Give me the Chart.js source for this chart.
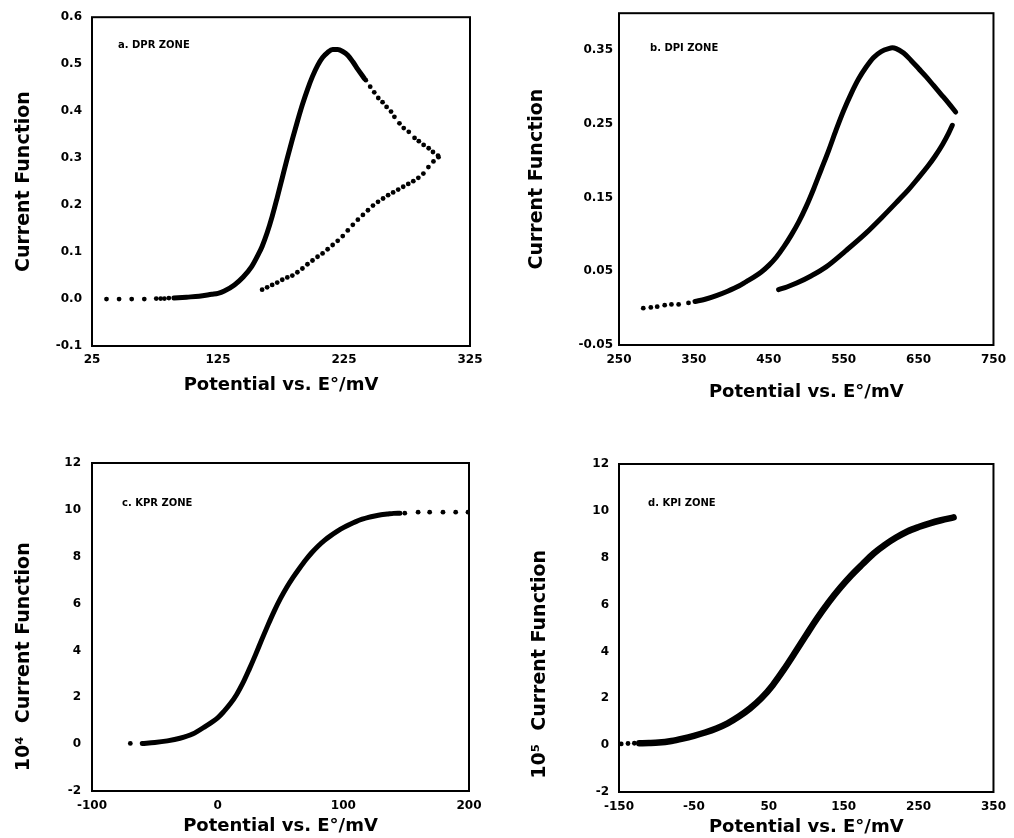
<!DOCTYPE html>
<html>
<head>
<meta charset="utf-8">
<script src="https://cdn.jsdelivr.net/npm/chart.js@4"></script>
<style>
  html, body { margin: 0; padding: 0; background: #fff; }
  body { width: 1014px; height: 838px; position: relative; overflow: hidden; }
  canvas { position: absolute; }
</style>
</head>
<body>
<canvas id="chartA" width="500" height="420" style="left:0;top:0;width:500px;height:420px"></canvas>
<canvas id="chartB" width="514" height="420" style="left:500px;top:0;width:514px;height:420px"></canvas>
<canvas id="chartC" width="500" height="418" style="left:0;top:420px;width:500px;height:418px"></canvas>
<canvas id="chartD" width="514" height="418" style="left:500px;top:420px;width:514px;height:418px"></canvas>
<script>
// ---------- Panel a: DPR zone ----------
const aXTicks = [25, 125, 225, 325];
const aYTicks = [-0.1, 0, 0.1, 0.2, 0.3, 0.4, 0.5, 0.6];
const aYTickLabels = ['-0.1', '0.0', '0.1', '0.2', '0.3', '0.4', '0.5', '0.6'];
const aFwdDotsX = [36.5, 46.5, 56.5, 66.5, 76, 79.5, 82.5, 86];
const aFwdDotsY = [0, 0, 0, 0, 0.001, 0.001, 0.001, 0.002];
const aFwdLineX = [90, 100, 110, 120, 125, 130, 138, 145, 151.7, 157, 160, 164, 168, 172, 176, 180, 184, 188, 192, 196, 200, 204, 208, 212, 216, 220, 224, 228, 232, 236, 241];
const aFwdLineY = [0.002, 0.004, 0.006, 0.010, 0.012, 0.017, 0.030, 0.047, 0.069, 0.095, 0.112, 0.141, 0.176, 0.216, 0.258, 0.300, 0.340, 0.378, 0.414, 0.446, 0.474, 0.497, 0.514, 0.525, 0.531, 0.531, 0.527, 0.519, 0.505, 0.489, 0.470];
const aFwdTailX = [242.3, 245.8, 249, 252.2, 255.6, 258.8, 262.3, 265, 269, 272.4, 276.4, 281, 284.4, 288.2, 292.2, 295.6, 299.6];
const aFwdTailY = [0.466, 0.452, 0.440, 0.428, 0.419, 0.409, 0.399, 0.388, 0.374, 0.364, 0.356, 0.343, 0.336, 0.328, 0.321, 0.313, 0.305];
const aRevDotsX = [160, 164, 168, 172, 176, 180, 184, 188, 192, 196, 200, 204, 208, 212, 216, 220, 224, 228, 232, 236, 240, 244, 248, 252, 256, 260, 264, 268, 272, 276, 280, 284, 288, 292, 296, 300];
const aRevDotsY = [0.020, 0.025, 0.030, 0.035, 0.041, 0.046, 0.050, 0.057, 0.065, 0.074, 0.082, 0.090, 0.097, 0.106, 0.115, 0.124, 0.134, 0.146, 0.158, 0.169, 0.179, 0.189, 0.199, 0.207, 0.214, 0.221, 0.227, 0.233, 0.239, 0.245, 0.251, 0.258, 0.267, 0.281, 0.293, 0.302];

// ---------- Panel b: DPI zone ----------
const bXTicks = [250, 350, 450, 550, 650, 750];
const bYTicks = [-0.05, 0.05, 0.15, 0.25, 0.35];
const bYTickLabels = ['-0.05', '0.05', '0.15', '0.25', '0.35'];
const bFwdDotsX = [282.4, 292.5, 301, 311, 320, 329.6, 342.8];
const bFwdDotsY = [0.000, 0.001, 0.002, 0.004, 0.005, 0.005, 0.007];
const bFwdLineX = [351.5, 365, 380, 395, 410, 420, 430, 440, 450, 460, 470, 480, 490, 500, 510, 520, 530, 540, 550, 560, 570, 580, 590, 600, 610, 615, 620, 630, 640, 650, 660, 670, 680, 690, 699.5];
const bFwdLineY = [0.009, 0.012, 0.017, 0.023, 0.030, 0.036, 0.042, 0.049, 0.058, 0.069, 0.083, 0.099, 0.117, 0.138, 0.162, 0.188, 0.214, 0.242, 0.268, 0.291, 0.311, 0.327, 0.340, 0.348, 0.352, 0.353, 0.352, 0.346, 0.336, 0.325, 0.314, 0.302, 0.290, 0.278, 0.266];
const bRevLineX = [695, 690, 682, 672, 662, 650, 636, 622.9, 601, 579, 553, 526.6, 507, 487.2, 475, 463.1];
const bRevLineY = [0.248, 0.237, 0.222, 0.206, 0.192, 0.177, 0.160, 0.146, 0.123, 0.101, 0.078, 0.056, 0.044, 0.034, 0.029, 0.025];

// ---------- Panel c: KPR zone ----------
const cXTicks = [-100, 0, 100, 200];
const cYTicks = [-2, 0, 2, 4, 6, 8, 10, 12];
const cYTickLabels = ['-2', '0', '2', '4', '6', '8', '10', '12'];
const cDotsX = [-69.5, 148.9, 159.5, 168.7, 179.3, 189.4, 199.2];
const cDotsY = [0.03, 9.86, 9.9, 9.9, 9.9, 9.9, 9.9];
const cLineX = [-60, -50, -40, -30, -20, -10, 0, 5, 10, 15, 20, 25, 30, 35, 40, 45, 50, 55, 60, 65, 70, 75, 80, 85, 90, 95, 100, 105, 110, 115, 120, 125, 130, 135, 140, 145];
const cLineY = [0.03, 0.07, 0.14, 0.25, 0.43, 0.75, 1.12, 1.40, 1.72, 2.11, 2.60, 3.18, 3.80, 4.45, 5.08, 5.68, 6.22, 6.70, 7.12, 7.50, 7.86, 8.18, 8.46, 8.70, 8.90, 9.08, 9.24, 9.38, 9.50, 9.60, 9.68, 9.74, 9.79, 9.82, 9.85, 9.86];

// ---------- Panel d: KPI zone ----------
const dXTicks = [-150, -50, 50, 150, 250, 350];
const dYTicks = [-2, 0, 2, 4, 6, 8, 10, 12];
const dYTickLabels = ['-2', '0', '2', '4', '6', '8', '10', '12'];
const dDotsX = [-147, -138, -129.5];
const dDotsY = [0.05, 0.07, 0.08];
const dLineX = [-123, -110, -97, -80, -65, -50, -35, -20, -5, 10, 25, 40, 55, 70, 85, 100, 115, 130, 145, 160, 175, 190, 205, 220, 235, 250, 265, 280, 296.8];
const dLineY = [0.08, 0.09, 0.11, 0.18, 0.28, 0.40, 0.54, 0.71, 0.93, 1.22, 1.57, 2.00, 2.55, 3.22, 3.95, 4.70, 5.43, 6.10, 6.70, 7.24, 7.72, 8.18, 8.55, 8.86, 9.12, 9.31, 9.47, 9.60, 9.72];

// ---------- Texts ----------
const xTitle = 'Potential vs. E°/mV';
const yTitleAB = 'Current Function';
const yTitleC = '   10⁴  Current Function';
const yTitleD = '  10⁵  Current Function';
const zoneLabels = ['a. DPR ZONE', 'b. DPI ZONE', 'c. KPR ZONE', 'd. KPI ZONE'];

// ---------- helpers ----------
const FONT = '"DejaVu Sans", "Liberation Sans", sans-serif';
const pts = (xs, ys) => xs.map((x, i) => ({ x: x, y: ys[i] }));

const framePlugin = {
  id: 'frame',
  afterDraw(chart) {
    const { ctx, chartArea: a } = chart;
    ctx.save();
    ctx.strokeStyle = '#000';
    ctx.lineWidth = 2;
    ctx.strokeRect(a.left, a.top, a.right - a.left, a.bottom - a.top);
    ctx.restore();
  }
};
const zonePlugin = {
  id: 'zoneLabel',
  afterDatasetsDraw(chart, args, opts) {
    const { ctx, chartArea: a } = chart;
    ctx.save();
    ctx.font = 'bold 10px ' + FONT;
    ctx.fillStyle = '#000';
    ctx.textBaseline = 'middle';
    ctx.textAlign = 'left';
    ctx.fillText(opts.text, a.left + opts.dx, a.top + opts.dy);
    ctx.restore();
  }
};

function lineDs(data, width) {
  return { data: data, showLine: true, borderColor: '#000', borderWidth: width,
           pointRadius: 0, cubicInterpolationMode: 'monotone',
           borderCapStyle: 'round', borderJoinStyle: 'round' };
}
function dotDs(data) {
  return { data: data, showLine: false, pointRadius: 2.4, pointBorderWidth: 0,
           backgroundColor: '#000', borderColor: '#000' };
}

function makeChart(id, cfg) {
  const tickList = (vals) => (scale) => { scale.ticks = vals.map(v => ({ value: v })); };
  new Chart(document.getElementById(id), {
    type: 'scatter',
    data: { datasets: cfg.datasets },
    options: {
      responsive: false,
      animation: false,
      events: [],
      layout: { padding: cfg.padding },
      plugins: {
        legend: { display: false },
        tooltip: { enabled: false },
        zoneLabel: cfg.zone
      },
      scales: {
        x: {
          type: 'linear', position: 'bottom',
          min: cfg.xTicks[0], max: cfg.xTicks[cfg.xTicks.length - 1],
          afterBuildTicks: tickList(cfg.xTicks),
          afterFit: (s) => { s.height = cfg.xAxisHeight; },
          grid: { display: false, drawTicks: false },
          border: { display: false },
          ticks: { color: '#000', padding: cfg.xTickPad, maxRotation: 0, autoSkip: false,
                   font: { family: FONT, size: 12, weight: 'bold' },
                   callback: (v) => String(v) },
          title: { display: true, text: xTitle, color: '#000',
                   font: { family: FONT, size: 18, weight: 'bold' },
                   padding: { top: 0, bottom: cfg.xTitlePad } }
        },
        y: {
          type: 'linear', position: 'left',
          min: cfg.yMin, max: cfg.yMax,
          afterBuildTicks: tickList(cfg.yTicks),
          afterFit: (s) => { s.width = cfg.yAxisWidth; },
          grid: { display: false, drawTicks: false },
          border: { display: false },
          ticks: { color: '#000', padding: cfg.yTickPad, autoSkip: false,
                   font: { family: FONT, size: 12, weight: 'bold' },
                   callback: (v) => { const i = cfg.yTicks.findIndex(t => Math.abs(t - v) < 1e-9); return i >= 0 ? cfg.yTickLabels[i] : ''; } },
          title: { display: true, text: cfg.yTitle, color: '#000', align: cfg.yTitleAlign,
                   font: { family: FONT, size: 19, weight: 'bold' },
                   padding: { top: cfg.yTitlePad, bottom: 0 } }
        }
      }
    },
    plugins: [framePlugin, zonePlugin]
  });
}

makeChart('chartA', {
  datasets: [dotDs(pts(aFwdDotsX, aFwdDotsY)), lineDs(pts(aFwdLineX, aFwdLineY), 5),
             dotDs(pts(aFwdTailX, aFwdTailY)), dotDs(pts(aRevDotsX, aRevDotsY))],
  padding: { left: 0, top: 15, right: 30, bottom: 0 },
  xTicks: aXTicks, yTicks: aYTicks, yTickLabels: aYTickLabels, yMin: -0.1, yMax: 0.6,
  xAxisHeight: 74, yAxisWidth: 92, xTickPad: 7, yTickPad: 10, xTitlePad: 24, yTitlePad: 13,
  yTitle: yTitleAB, yTitleAlign: 'center',
  zone: { text: zoneLabels[0], dx: 26, dy: 28 }
});
makeChart('chartB', {
  datasets: [dotDs(pts(bFwdDotsX, bFwdDotsY)), lineDs(pts(bFwdLineX, bFwdLineY), 5),
             lineDs(pts(bRevLineX, bRevLineY), 5)],
  padding: { left: 0, top: 12, right: 13, bottom: 0 },
  xTicks: bXTicks, yTicks: bYTicks, yTickLabels: bYTickLabels, yMin: -0.05, yMax: 0.40,
  xAxisHeight: 75, yAxisWidth: 119, xTickPad: 8, yTickPad: 6, xTitlePad: 17, yTitlePad: 26,
  yTitle: yTitleAB, yTitleAlign: 'center',
  zone: { text: zoneLabels[1], dx: 31, dy: 35 }
});
makeChart('chartC', {
  datasets: [dotDs(pts(cDotsX, cDotsY)), lineDs(pts(cLineX, cLineY), 5)],
  padding: { left: 0, top: 43, right: 31, bottom: 0 },
  xTicks: cXTicks, yTicks: cYTicks, yTickLabels: cYTickLabels, yMin: -2, yMax: 12,
  xAxisHeight: 47, yAxisWidth: 92, xTickPad: 8, yTickPad: 11, xTitlePad: 1, yTitlePad: 13,
  yTitle: yTitleC, yTitleAlign: 'start',
  zone: { text: zoneLabels[2], dx: 30, dy: 40 }
});
makeChart('chartD', {
  datasets: [dotDs(pts(dDotsX, dDotsY)), lineDs(pts(dLineX, dLineY), 6.5)],
  padding: { left: 0, top: 44, right: 14, bottom: 0 },
  xTicks: dXTicks, yTicks: dYTicks, yTickLabels: dYTickLabels, yMin: -2, yMax: 12,
  xAxisHeight: 46, yAxisWidth: 119, xTickPad: 8, yTickPad: 10, xTitlePad: 0, yTitlePad: 29,
  yTitle: yTitleD, yTitleAlign: 'start',
  zone: { text: zoneLabels[3], dx: 29, dy: 39 }
});
</script>
</body>
</html>
